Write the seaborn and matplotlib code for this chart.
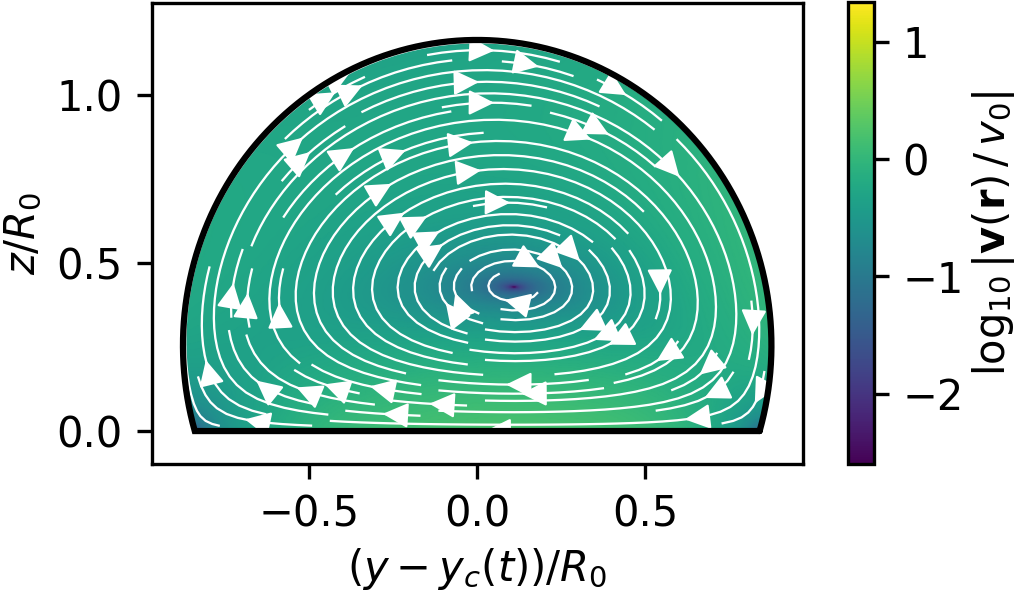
import numpy as np
import matplotlib
matplotlib.use("Agg")
import matplotlib.pyplot as plt
import seaborn as sns

# droplet outline, units of R0 (elliptical cap cut at z = 0)
drop_center_y = 0.0
drop_center_z = 0.255
drop_half_width = 0.875
drop_half_height = 0.909
# position of the vortex core
vortex_y = 0.11
vortex_z = 0.43
# colour scale of log10|v|/v0
cbar_min, cbar_max = -2.6, 1.34
wall_log_speed = 0.2
cbar_ticks = [-2, -1, 0, 1]
x_ticks = [-0.5, 0.0, 0.5]
y_ticks = [0.0, 0.5, 1.0]

sns.set_style("ticks", {"axes.edgecolor": "black", "text.color": "black",
                        "xtick.color": "black", "ytick.color": "black",
                        "axes.labelcolor": "black"})
plt.rcParams["font.family"] = ["DejaVu Sans"]
plt.rcParams["font.size"] = 10
plt.rcParams["mathtext.fontset"] = "dejavusans"


def shape(y, z):
    return 1 - ((y - drop_center_y) / drop_half_width) ** 2 - ((z - drop_center_z) / drop_half_height) ** 2


# stream function psi = z * F * exp(-k z + k2 y), constants chosen so the core sits at the vortex point
F0 = shape(vortex_y, vortex_z)
Fz0 = -2 * (vortex_z - drop_center_z) / drop_half_height ** 2
Fy0 = -2 * (vortex_y - drop_center_y) / drop_half_width ** 2
k = 1 / vortex_z + Fz0 / F0
k2 = -Fy0 / F0

y = np.linspace(-0.9, 0.9, 541)
z = np.linspace(0.0, 1.18, 355)
Y, Z = np.meshgrid(y, z)
F = shape(Y, Z)
Fz = -2 * (Z - drop_center_z) / drop_half_height ** 2
Fy = -2 * (Y - drop_center_y) / drop_half_width ** 2
E = np.exp(-k * Z + k2 * Y)
dpsi_dz = E * (F + Z * Fz - k * Z * F)
dpsi_dy = E * Z * (Fy + k2 * F)
U = -dpsi_dz
W = dpsi_dy
inside = F > 0
U = np.where(inside, U, np.nan)
W = np.where(inside, W, np.nan)
speed = np.hypot(U, W)
v0 = (1 - (drop_center_z / drop_half_height) ** 2) / 10 ** wall_log_speed
logv = np.ma.masked_invalid(np.log10(speed / v0))

fig = plt.figure(figsize=(1021 / 300, 592 / 300), dpi=300)
ax = fig.add_axes([151.7 / 1021, 1 - 464.3 / 592, 651 / 1021, 461.3 / 592])
cax = fig.add_axes([847.5 / 1021, 1 - 464 / 592, 26 / 1021, 462 / 592])

cmap = sns.color_palette("viridis", as_cmap=True)
mesh = ax.pcolormesh(Y, Z, logv, cmap=cmap, vmin=cbar_min, vmax=cbar_max,
                     shading="gouraud", rasterized=True)
ax.streamplot(y, z, U, W, color="white", linewidth=0.55, density=1.35, arrowsize=1.3)

t0 = -np.arcsin(drop_center_z / drop_half_height)
t = np.linspace(t0, np.pi - t0, 400)
oy = drop_center_y + drop_half_width * np.cos(t)
oz = drop_center_z + drop_half_height * np.sin(t)
oy = np.append(oy, oy[0])
oz = np.append(oz, oz[0])
ax.plot(oy, oz, color="black", lw=1.5, solid_joinstyle="miter")

ax.set_xlim(-0.968, 0.968)
ax.set_ylim(-0.099, 1.274)
ax.set_xticks(x_ticks)
ax.set_yticks(y_ticks)
ax.set_xlabel(r"$(y - y_c(t))/R_0$", labelpad=2.5)
ax.set_ylabel(r"$z/R_0$", labelpad=3)

cb = fig.colorbar(mesh, cax=cax, ticks=cbar_ticks)
cb.set_label(r"$\log_{10}|\mathbf{v}(\mathbf{r})\,/\,v_0|$", labelpad=1.5)

fig.savefig("out.png", dpi=300)
